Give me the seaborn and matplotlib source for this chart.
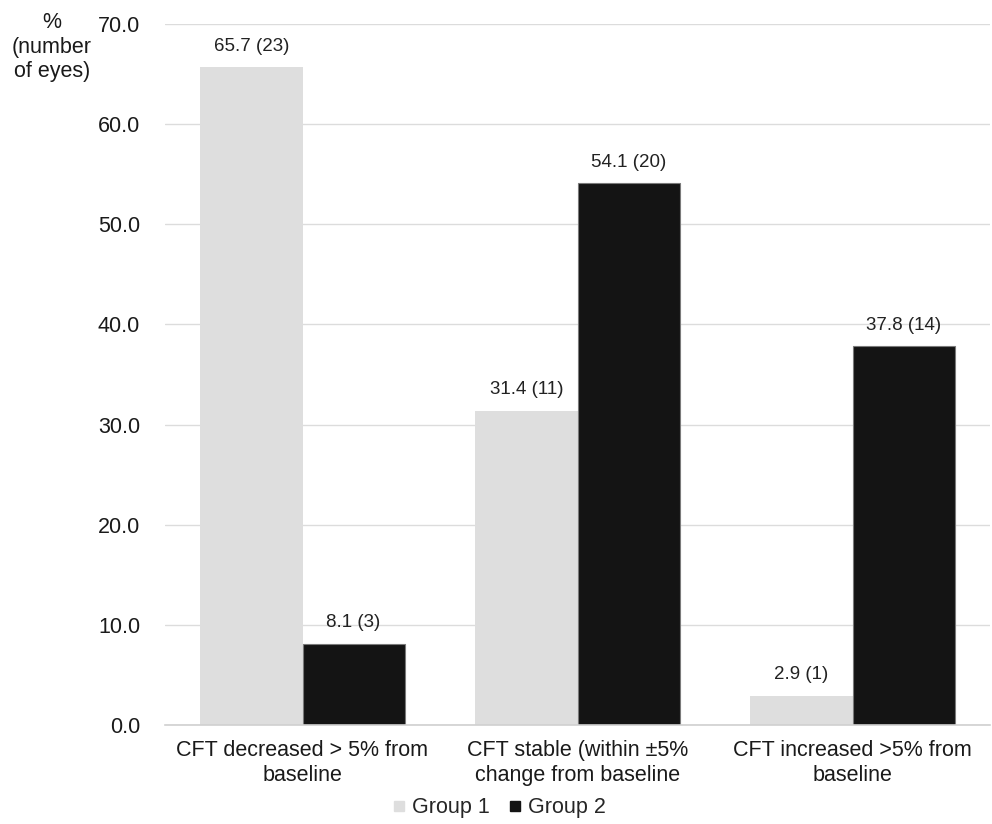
import matplotlib
matplotlib.use("Agg")
import matplotlib.pyplot as plt
from matplotlib.lines import Line2D
import seaborn as sns
import pandas as pd

categories = [
    "CFT decreased > 5% from\nbaseline",
    "CFT stable (within ±5%\nchange from baseline",
    "CFT increased >5% from\nbaseline",
]
groups = ["Group 1", "Group 2"]
group1_pct = [65.7, 31.4, 2.9]
group1_n = [23, 11, 1]
group2_pct = [8.1, 54.1, 37.8]
group2_n = [3, 20, 14]
y_ticks = [0, 10, 20, 30, 40, 50, 60, 70]

df = pd.DataFrame({
    "category": categories * 2,
    "group": [groups[0]] * 3 + [groups[1]] * 3,
    "pct": group1_pct + group2_pct,
    "n": group1_n + group2_n,
})

sns.set_theme(style="white")
plt.rcParams["font.family"] = ["Liberation Sans", "DejaVu Sans"]

fig = plt.figure(figsize=(9.92, 8.24), dpi=100)
ax = fig.add_axes([165 / 992, 1 - 725 / 824, 825 / 992, 701 / 824])

palette = {groups[0]: "#DEDEDE", groups[1]: "#141414"}
sns.barplot(data=df, x="category", y="pct", hue="group", palette=palette,
            width=0.742, gap=0, saturation=1, ax=ax, zorder=3, legend=True)

for container, grp in zip(ax.containers, groups):
    sub = df[df["group"] == grp]
    for bar in container:
        if grp == groups[1]:
            bar.set_edgecolor("#7a7a7a")
            bar.set_linewidth(0.8)
        else:
            bar.set_edgecolor("none")
    labels = [f"{p:.1f} ({n})" for p, n in zip(sub["pct"], sub["n"])]
    ax.bar_label(container, labels=labels, padding=9, fontsize=13.5, color="#222222")

ax.set_ylim(0, 70)
ax.set_yticks(y_ticks)
ax.set_yticklabels([f"{v:.1f}" for v in y_ticks], fontsize=15.5, color="#1a1a1a")
ax.tick_params(axis="y", length=0, pad=18)
ax.tick_params(axis="x", length=0, pad=11, labelsize=15.5, labelcolor="#1a1a1a")
for t in ax.get_xticklabels():
    t.set_linespacing(1.22)
ax.set_xlabel("")
ax.set_ylabel("")
ax.yaxis.grid(True, color="#DCDCDC", linewidth=1.0, zorder=0)
ax.set_axisbelow(True)
for side in ["top", "right", "left"]:
    ax.spines[side].set_visible(False)
ax.spines["bottom"].set_color("#D0D0D0")
ax.spines["bottom"].set_linewidth(1.2)
ax.spines["bottom"].set_zorder(4)

fig.text(52 / 992, 1 - 47 / 824, "%\n(number\nof eyes)", ha="center", va="center",
         fontsize=15.5, color="#1a1a1a", linespacing=1.2)

ax.legend_.remove()
proxies = [Line2D([0], [0], marker="s", linestyle="none", markersize=6.5,
                  markerfacecolor=palette[g], markeredgecolor=palette[g]) for g in groups]
fig.legend(proxies, groups, loc="center", bbox_to_anchor=(499 / 992, 1 - 808 / 824),
           ncol=2, frameon=False, fontsize=15.5, handletextpad=0.3, columnspacing=0.9,
           handlelength=0.6)

fig.savefig("out.png", dpi=100)
